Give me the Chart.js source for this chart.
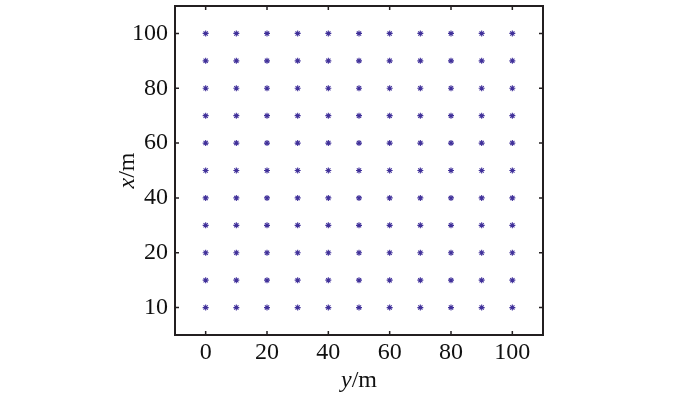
<!DOCTYPE html>
<html>
<head>
<meta charset="utf-8">
<script src="https://cdn.jsdelivr.net/npm/chart.js@4.4.1/dist/chart.umd.min.js"></script>
<style>
  html, body { margin: 0; padding: 0; background: #fff; }
  #wrap { width: 700px; height: 399px; }
</style>
</head>
<body>
<div id="wrap"><canvas id="grid"></canvas></div>
<script>
// ================== DATA ==================
const yPositions = [0, 10, 20, 30, 40, 50, 60, 70, 80, 90, 100]; // horizontal axis (y/m)
const xPositions = [0, 10, 20, 30, 40, 50, 60, 70, 80, 90, 100]; // vertical axis (x/m)
const bottomTickValues = [0, 20, 40, 60, 80, 100];
const bottomTickLabels = ["0", "20", "40", "60", "80", "100"];
const leftTickValues = [0, 20, 40, 60, 80, 100];
const leftTickLabels = ["10", "20", "40", "60", "80", "100"];

const points = [];
xPositions.forEach(xv => {
  yPositions.forEach(yv => points.push({ x: yv, y: xv }));
});

// ================== STYLE ==================
const FONT = "'Liberation Serif', 'Times New Roman', serif";
const INK = "#111";
const FSIZE = 24;

// frame, inward ticks and mixed-style axis titles
const framePlugin = {
  id: "frame",
  afterDraw(chart) {
    const { ctx, chartArea: a, scales } = chart;
    ctx.save();
    ctx.strokeStyle = "#231f20";
    ctx.lineWidth = 2;
    ctx.strokeRect(a.left, a.top, a.right - a.left, a.bottom - a.top);

    ctx.lineWidth = 1.5;
    const t = 4;
    ctx.beginPath();
    bottomTickValues.forEach(v => {
      const px = scales.x.getPixelForValue(v);
      ctx.moveTo(px, a.bottom); ctx.lineTo(px, a.bottom - t);
      ctx.moveTo(px, a.top); ctx.lineTo(px, a.top + t);
    });
    leftTickValues.forEach(v => {
      const py = scales.y.getPixelForValue(v);
      ctx.moveTo(a.left, py); ctx.lineTo(a.left + t, py);
      ctx.moveTo(a.right, py); ctx.lineTo(a.right - t, py);
    });
    ctx.stroke();

    // titles: italic letter + upright "/m"
    ctx.fillStyle = INK;
    ctx.textBaseline = "alphabetic";
    const drawTitle = (letter, cx, cy, rot) => {
      ctx.save();
      ctx.translate(cx, cy);
      ctx.rotate(rot);
      ctx.font = "italic " + FSIZE + "px " + FONT;
      const w1 = ctx.measureText(letter).width;
      ctx.font = FSIZE + "px " + FONT;
      const w2 = ctx.measureText("/m").width;
      const x0 = -(w1 + w2) / 2;
      ctx.font = "italic " + FSIZE + "px " + FONT;
      ctx.textAlign = "left";
      ctx.fillText(letter, x0, 0);
      ctx.font = FSIZE + "px " + FONT;
      ctx.fillText("/m", x0 + w1, 0);
      ctx.restore();
    };
    drawTitle("y", (a.left + a.right) / 2, 387, 0);
    drawTitle("x", 134, (a.top + a.bottom) / 2, -Math.PI / 2);
    ctx.restore();
  }
};

// ================== CHART ==================
new Chart(document.getElementById("grid"), {
  type: "scatter",
  data: {
    datasets: [{
      data: points,
      pointStyle: "star",
      radius: 3,
      borderWidth: 1.1,
      borderColor: "#40309a",
      backgroundColor: "#40309a"
    }]
  },
  options: {
    responsive: true,
    maintainAspectRatio: false,
    animation: false,
    layout: { padding: { top: 6, right: 157, left: 0, bottom: 0 } },
    plugins: { legend: { display: false }, tooltip: { enabled: false } },
    scales: {
      x: {
        type: "linear",
        min: -10,
        max: 110,
        grid: { display: false, drawTicks: false },
        border: { display: false },
        afterFit: s => { s.height = 64; s.paddingLeft = 0; s.paddingRight = 0; },
        afterBuildTicks: s => { s.ticks = bottomTickValues.map(v => ({ value: v })); },
        ticks: {
          padding: 3,
          color: INK,
          font: { family: FONT, size: FSIZE },
          callback: (v) => bottomTickLabels[bottomTickValues.indexOf(v)]
        }
      },
      y: {
        type: "linear",
        min: -10,
        max: 110,
        grid: { display: false, drawTicks: false },
        border: { display: false },
        afterFit: s => { s.width = 175; s.paddingTop = 0; s.paddingBottom = 0; },
        afterBuildTicks: s => { s.ticks = leftTickValues.map(v => ({ value: v })); },
        ticks: {
          padding: 7,
          color: INK,
          font: { family: FONT, size: FSIZE },
          callback: (v) => leftTickLabels[leftTickValues.indexOf(v)]
        }
      }
    }
  },
  plugins: [framePlugin]
});
</script>
</body>
</html>
